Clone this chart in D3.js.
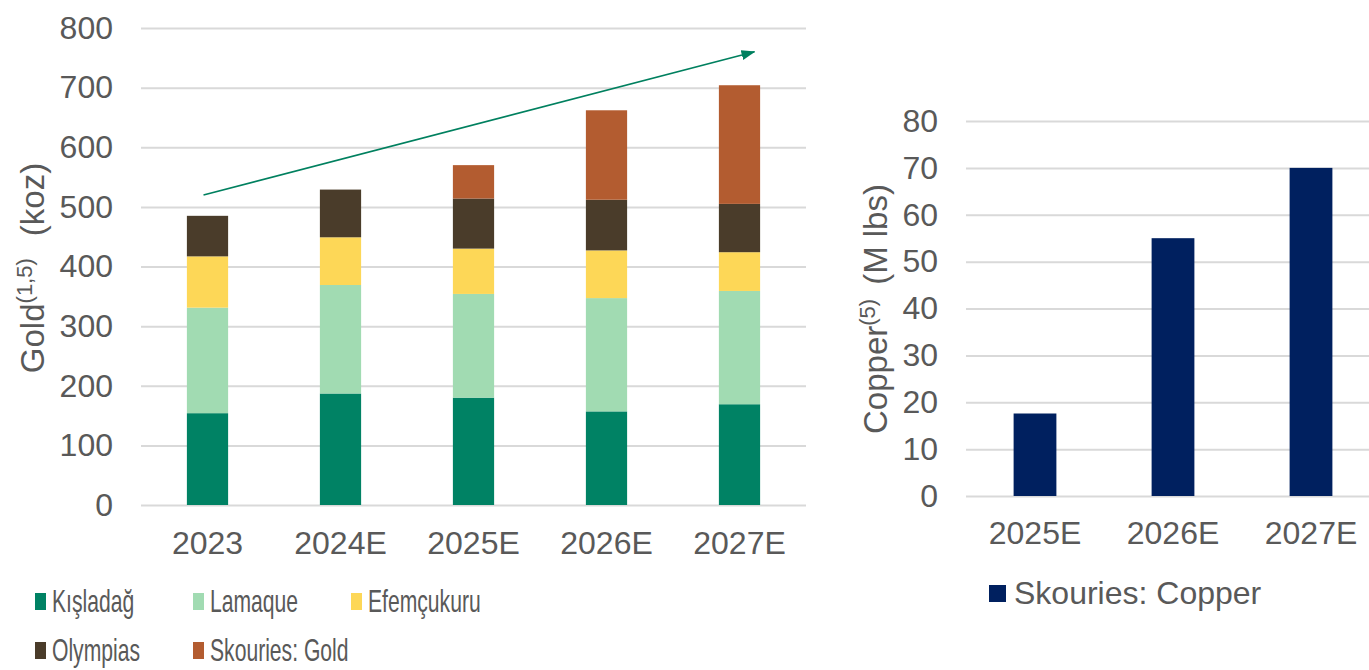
<!DOCTYPE html>
<html>
<head>
<meta charset="utf-8">
<script src="https://cdn.jsdelivr.net/npm/d3@7"></script>
<style>
  body { margin: 0; background: #fff; }
  svg { display: block; font-family: "Liberation Sans", Arial, sans-serif; }
</style>
</head>
<body>
<svg id="chart" width="1369" height="670"></svg>
<script>
// gold chart data (koz)
var goldYears = ["2023", "2024E", "2025E", "2026E", "2027E"];
var goldSeries = ["Kışladağ", "Lamaque", "Efemçukuru", "Olympias", "Skouries: Gold"];
var kisladag = [154, 187, 180, 157, 169];
var lamaque = [177, 182, 174, 190, 190];
var efemcukuru = [86, 80, 76, 80, 65];
var olympias = [68, 80, 84, 85, 81];
var skouriesGold = [0, 0, 56, 150, 199];
var goldTicks = [0, 100, 200, 300, 400, 500, 600, 700, 800];

// copper chart data (M lbs)
var copperYears = ["2025E", "2026E", "2027E"];
var skouriesCopper = [17.6, 55, 70];
var copperTicks = [0, 10, 20, 30, 40, 50, 60, 70, 80];

// trend arrow, in data terms
var arrowFrom = {year: "2023", value: 520};
var arrowTo = {year: "2027E", value: 760};

var goldColors = ["#008264", "#a1dbb2", "#fdd757", "#4a3c2a", "#b35c30"];
var copperColor = "#00205f";
var textColor = "#595959";
var gridColor = "#d9d9d9";
var fontSize = "32px";

var svg = d3.select("#chart");

// ---------- left: gold ----------
var goldRows = goldYears.map(function(y, i) {
    return {year: y, "Kışladağ": kisladag[i], "Lamaque": lamaque[i], "Efemçukuru": efemcukuru[i],
            "Olympias": olympias[i], "Skouries: Gold": skouriesGold[i]};
});
var stacked = d3.stack().keys(goldSeries)(goldRows);

var x1 = d3.scaleBand().domain(goldYears).range([141, 806]).paddingInner(0.69).paddingOuter(0.345);
var y1 = d3.scaleLinear().domain([0, 800]).range([505, 28]);
var color1 = d3.scaleOrdinal().domain(goldSeries).range(goldColors);

var gL = svg.append("g");

var yAxis1 = gL.append("g")
    .attr("transform", "translate(141,0)")
    .call(d3.axisLeft(y1).tickValues(goldTicks).tickSize(-665).tickPadding(28));
yAxis1.select(".domain").remove();
yAxis1.selectAll("line").attr("stroke", gridColor).attr("stroke-width", 2);
yAxis1.selectAll("text").attr("fill", textColor).style("font-size", fontSize);

var xAxis1 = gL.append("g")
    .attr("transform", "translate(0,505)")
    .call(d3.axisBottom(x1).tickSize(0).tickPadding(26));
xAxis1.select(".domain").remove();
xAxis1.selectAll("text").attr("fill", textColor).style("font-size", fontSize);

gL.selectAll("g.layer").data(stacked).enter()
    .append("g")
    .attr("class", "layer")
    .attr("fill", function(d) { return color1(d.key); })
    .selectAll("rect")
    .data(function(d) { return d; })
    .enter()
    .append("rect")
    .attr("x", function(d) { return x1(d.data.year); })
    .attr("width", x1.bandwidth())
    .attr("y", function(d) { return y1(d[1]); })
    .attr("height", function(d) { return y1(d[0]) - y1(d[1]); });

// arrow
svg.append("defs").append("marker")
    .attr("id", "head")
    .attr("viewBox", "0 0 14 10")
    .attr("refX", 13).attr("refY", 5)
    .attr("markerWidth", 14).attr("markerHeight", 10)
    .attr("markerUnits", "userSpaceOnUse")
    .attr("orient", "auto")
    .append("path")
    .attr("d", "M0,0L14,5L0,10Z")
    .attr("fill", "#00805f");

gL.append("line")
    .attr("x1", x1(arrowFrom.year) + x1.bandwidth() / 2 - 4)
    .attr("y1", y1(arrowFrom.value))
    .attr("x2", x1(arrowTo.year) + x1.bandwidth() / 2 + 15)
    .attr("y2", y1(arrowTo.value))
    .attr("stroke", "#00805f")
    .attr("stroke-width", 1.6)
    .attr("marker-end", "url(#head)");

// y title
var t1 = gL.append("text")
    .attr("transform", "translate(44,268) rotate(-90)")
    .attr("text-anchor", "middle")
    .attr("fill", textColor)
    .style("font-size", "33px");
t1.append("tspan").text("Gold");
t1.append("tspan").text("(1,5)").style("font-size", "22px").attr("dy", -12);
t1.append("tspan").text("(koz)").attr("dx", 22).attr("dy", 12);

// legend
var legendPos = [[35, 612], [193, 612], [351, 612], [35, 661], [193, 661]];
var leg1 = gL.selectAll("g.leg").data(goldSeries).enter()
    .append("g")
    .attr("class", "leg")
    .attr("transform", function(d, i) { return "translate(" + legendPos[i][0] + "," + legendPos[i][1] + ")"; });
leg1.append("rect")
    .attr("x", 0).attr("y", -19).attr("width", 11).attr("height", 17)
    .attr("fill", function(d) { return color1(d); });
leg1.append("text")
    .attr("transform", "translate(17,0) scale(0.66,1)")
    .attr("fill", textColor)
    .style("font-size", fontSize)
    .text(function(d) { return d; });

// ---------- right: copper ----------
var x2 = d3.scaleBand().domain(copperYears).range([966, 1380]).paddingInner(0.69).paddingOuter(0.345);
var y2 = d3.scaleLinear().domain([0, 80]).range([496, 121]);

var gR = svg.append("g");

var yAxis2 = gR.append("g")
    .attr("transform", "translate(966,0)")
    .call(d3.axisLeft(y2).tickValues(copperTicks).tickSize(-414).tickPadding(28));
yAxis2.select(".domain").remove();
yAxis2.selectAll("line").attr("stroke", gridColor).attr("stroke-width", 2);
yAxis2.selectAll("text").attr("fill", textColor).style("font-size", fontSize);

var xAxis2 = gR.append("g")
    .attr("transform", "translate(0,496)")
    .call(d3.axisBottom(x2).tickSize(0).tickPadding(25));
xAxis2.select(".domain").remove();
xAxis2.selectAll("text").attr("fill", textColor).style("font-size", fontSize);

gR.selectAll("rect.cu").data(skouriesCopper).enter()
    .append("rect")
    .attr("class", "cu")
    .attr("x", function(d, i) { return x2(copperYears[i]); })
    .attr("width", x2.bandwidth())
    .attr("y", function(d) { return y2(d); })
    .attr("height", function(d) { return y2(0) - y2(d); })
    .attr("fill", copperColor);

var t2 = gR.append("text")
    .attr("transform", "translate(887,309) rotate(-90)")
    .attr("text-anchor", "middle")
    .attr("fill", textColor)
    .style("font-size", "33px");
t2.append("tspan").text("Copper");
t2.append("tspan").text("(5)").style("font-size", "22px").attr("dy", -12);
t2.append("tspan").text("(M lbs)").attr("dx", 14).attr("dy", 12);

var leg2 = gR.append("g").attr("transform", "translate(989,604)");
leg2.append("rect")
    .attr("x", 0).attr("y", -19).attr("width", 17).attr("height", 17)
    .attr("fill", copperColor);
leg2.append("text")
    .attr("x", 25).attr("y", 0)
    .attr("fill", textColor)
    .style("font-size", fontSize)
    .text("Skouries: Copper");
</script>
</body>
</html>
